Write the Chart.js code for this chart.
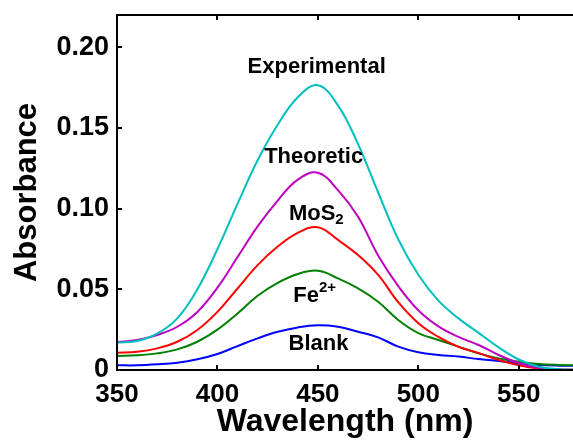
<!DOCTYPE html>
<html><head><meta charset="utf-8">
<script src="https://cdn.jsdelivr.net/npm/chart.js@4.4.1/dist/chart.umd.min.js"></script>
<style>html,body{margin:0;padding:0;background:#fff;overflow:hidden;}</style>
</head><body>
<canvas id="c" width="573" height="442"></canvas>
<script>
// ---- data ----
const wavelengths  = [350,360,370,380,390,400,410,420,430,440,450,460,470,480,490,500,510,520,530,540,550,560,570,577];
const experimental = [0.0170,0.0180,0.0225,0.0320,0.0500,0.0750,0.1030,0.1300,0.1520,0.1690,0.1765,0.1640,0.1400,0.1100,0.0810,0.0590,0.0430,0.0320,0.0230,0.0140,0.0065,0.0020,0.0005,0.0002];
const theoretic    = [0.0173,0.0186,0.0217,0.0268,0.0360,0.0510,0.0700,0.0890,0.1050,0.1180,0.1222,0.1115,0.0950,0.0710,0.0520,0.0370,0.0270,0.0205,0.0155,0.0093,0.0043,0.0012,0.0003,0.0001];
const mos2         = [0.0107,0.0113,0.0134,0.0175,0.0248,0.0360,0.0505,0.0650,0.0765,0.0850,0.0885,0.0806,0.0712,0.0589,0.0420,0.0290,0.0205,0.0143,0.0105,0.0062,0.0030,0.0010,0.0003,0.0001];
const fe2          = [0.0087,0.0091,0.0103,0.0128,0.0175,0.0250,0.0350,0.0460,0.0540,0.0595,0.0615,0.0568,0.0506,0.0423,0.0310,0.0229,0.0186,0.0145,0.0103,0.0072,0.0052,0.0037,0.0031,0.0030];
const blank        = [0.0029,0.0029,0.0035,0.0045,0.0066,0.0099,0.0148,0.0196,0.0237,0.0264,0.0277,0.0268,0.0237,0.0202,0.0145,0.0110,0.0093,0.0083,0.0068,0.0056,0.0041,0.0031,0.0027,0.0027];
const seriesNames  = ['Experimental','Theoretic','MoS2','Fe2+','Blank'];
const xTicks = [350,400,450,500,550];
const xTickLabels = ['350','400','450','500','550'];
const yTicks = [0,0.05,0.10,0.15,0.20];
const yTickLabels = ['0','0.05','0.10','0.15','0.20'];
const xRange = [350,577];
const yRange = [0,0.22];

// curve annotations: text parts + anchor in data coordinates (center x, baseline y)
const curveLabels = [
  {parts:[['Experimental','n']], x:449.4, y:0.184},
  {parts:[['Theoretic','n']], x:447.9, y:0.1283},
  {parts:[['MoS','n'],['2','sub']], x:449.2, y:0.0929},
  {parts:[['Fe','n'],['2+','sup']], x:448.4, y:0.0421},
  {parts:[['Blank','n']], x:450.3, y:0.0124}
];

const FONT = "'Liberation Sans', Arial, Helvetica, sans-serif";
const colors = ['#00BFBF','#BF00BF','#FF0000','#008000','#0000FF'];
const seriesData = [experimental, theoretic, mos2, fe2, blank];

const datasets = seriesData.map((arr,i)=>({
  label: seriesNames[i],
  data: wavelengths.map((w,j)=>({x:w, y:arr[j]})),
  borderColor: colors[i],
  borderWidth: 2,
  pointRadius: 0,
  fill: false,
  tension: 0.4
}));

const framePlugin = {
  id: 'frame',
  afterDatasetsDraw(chart) {
    const {ctx, chartArea: a, scales: {x, y}} = chart;
    ctx.save();
    ctx.strokeStyle = '#000';
    ctx.lineWidth = 2;
    ctx.beginPath();
    ctx.moveTo(a.right + 2, a.top); ctx.lineTo(a.left, a.top);
    ctx.lineTo(a.left, a.bottom); ctx.lineTo(a.right + 2, a.bottom);
    ctx.stroke();
    const tl = 5;
    ctx.beginPath();
    xTicks.forEach(v => {
      const px = Math.round(x.getPixelForValue(v));
      ctx.moveTo(px, a.bottom); ctx.lineTo(px, a.bottom - tl);
      ctx.moveTo(px, a.top); ctx.lineTo(px, a.top + tl);
    });
    yTicks.forEach(v => {
      const py = Math.round(y.getPixelForValue(v));
      ctx.moveTo(a.left, py); ctx.lineTo(a.left + tl, py);
    });
    ctx.stroke();
    // curve labels
    ctx.fillStyle = '#000';
    ctx.textBaseline = 'alphabetic';
    ctx.textAlign = 'left';
    const mainF = "bold 22px " + FONT, smallF = "bold 15px " + FONT;
    curveLabels.forEach(lb => {
      let w = 0;
      lb.parts.forEach(p => { ctx.font = p[1]==='n'?mainF:smallF; w += ctx.measureText(p[0]).width; });
      let cx = x.getPixelForValue(lb.x) - w/2;
      const by = y.getPixelForValue(lb.y);
      lb.parts.forEach(p => {
        ctx.font = p[1]==='n'?mainF:smallF;
        const dy = p[1]==='sub' ? 4 : (p[1]==='sup' ? -10 : 0);
        ctx.fillText(p[0], cx, by + dy);
        cx += ctx.measureText(p[0]).width;
      });
    });
    ctx.restore();
  }
};

new Chart(document.getElementById('c'), {
  type: 'line',
  data: { datasets },
  plugins: [framePlugin],
  options: {
    responsive: false,
    animation: false,
    devicePixelRatio: 1,
    layout: { padding: { top: 15, right: 0, left: 0, bottom: 0 } },
    plugins: { legend: { display: false }, tooltip: { enabled: false } },
    scales: {
      x: {
        type: 'linear', position: 'bottom', min: xRange[0], max: xRange[1],
        afterBuildTicks: s => { s.ticks = xTicks.map(v => ({value: v})); },
        afterFit: s => { s.height = 72; s.paddingLeft = 0; s.paddingRight = 0; },
        grid: { display: false, drawTicks: false },
        border: { display: false },
        ticks: { color: '#000', padding: 9, maxRotation: 0, autoSkip: false,
          font: { family: FONT, size: 26, weight: 'bold' },
          callback: (v) => { const i = xTicks.indexOf(v); return i >= 0 ? xTickLabels[i] : ''; } },
        title: { display: true, text: 'Wavelength (nm)', color: '#000',
          font: { family: FONT, size: 32, weight: 'bold', lineHeight: 1.2 },
          padding: { top: 0, bottom: 1 } }
      },
      y: {
        type: 'linear', position: 'left', min: yRange[0], max: yRange[1],
        afterBuildTicks: s => { s.ticks = yTicks.map(v => ({value: v})); },
        afterFit: s => { s.width = 117; s.paddingTop = 0; s.paddingBottom = 0; },
        grid: { display: false, drawTicks: false },
        border: { display: false },
        ticks: { color: '#000', padding: 8, autoSkip: false,
          font: { family: FONT, size: 27, weight: 'bold' },
          callback: (v) => { const i = yTicks.findIndex(t => Math.abs(t - v) < 1e-9); return i >= 0 ? yTickLabels[i] : ''; } },
        title: { display: true, text: 'Absorbance', color: '#000',
          font: { family: FONT, size: 31, weight: 'bold', lineHeight: 1.2 },
          padding: { top: 9, bottom: 0 } }
      }
    }
  }
});
</script>
</body></html>
